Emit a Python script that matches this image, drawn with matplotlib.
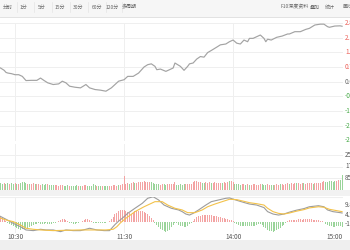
import numpy as np
import matplotlib
matplotlib.use("Agg")
import matplotlib.pyplot as plt
from matplotlib.patches import Rectangle
from matplotlib.lines import Line2D

plt.rcParams['font.family'] = ['Noto Sans CJK SC', 'DejaVu Sans']

# toolbar texts
tabs = ["分时", "1分", "5分", "15分", "30分", "60分", "120分", "多周期"]
tab_x = [8, 23, 42, 60, 78, 97, 112, 129]
tools = ["F10深度资料", "叠加", "统计", "画线"]
tool_x = [295, 315, 330, 348]

# price line: minutes since 9:30 (lunch removed) and change in %
price_min = [51, 52, 54, 55, 56, 58, 60, 62, 64, 66, 69, 72, 74, 76, 78, 81, 84, 86, 88, 90, 93,
             96, 99, 101, 104, 107, 110, 113, 117, 120, 122, 125, 128, 131, 133, 135, 137, 138, 140, 143, 145,
             147, 148, 151, 153, 155, 156, 158, 160, 162, 164, 166, 168, 171, 173, 176, 178, 180, 182, 184, 186,
             188, 189, 191, 193, 195, 197, 198, 199, 201, 204, 207, 210, 211, 214, 217, 220, 222, 225, 228, 230,
             232, 233, 236, 239, 240]
price_pct = [0.68, 0.65, 0.54, 0.44, 0.41, 0.38, 0.33, 0.33, 0.25, 0.05, 0.06, 0.06, 0.17, 0.05, -0.06, -0.14, -0.11, 0.02, -0.06, -0.22, -0.27,
             -0.30, -0.14, -0.30, -0.38, -0.41, -0.46, -0.30, 0.02, 0.09, 0.25, 0.25, 0.41, 0.70, 0.81, 0.85, 0.73, 0.57, 0.60, 0.49, 0.57,
             0.65, 0.89, 0.73, 0.54, 0.73, 0.85, 0.89, 1.08, 1.20, 1.17, 1.39, 1.49, 1.65, 1.76, 1.80, 1.91, 1.99, 1.84, 1.80, 1.99,
             1.91, 2.07, 2.07, 2.15, 2.23, 2.07, 1.91, 2.03, 1.99, 2.12, 2.18, 2.28, 2.28, 2.39, 2.39, 2.50, 2.55, 2.71, 2.75, 2.75,
             2.63, 2.60, 2.66, 2.67, 2.65]
pct_ticks = [2.82, 2.11, 1.41, 0.70, 0.00, -0.70, -1.41, -2.11, -2.82]

# per-minute volume starting at minute 52, r = up, g = down
vol_start = 52
volume = [480, 440, 470, 420, 450, 430, 460, 410, 470, 440,
          430, 460, 520, 560, 500, 440, 420, 380, 450, 400,
          380, 420, 360, 400, 350, 380, 420, 330, 360, 340,
          330, 300, 280, 320, 350, 290, 270, 300, 260, 280,
          270, 250, 300, 260, 240, 280, 330, 360, 270, 250,
          240, 430, 300, 260, 230, 270, 250, 240, 260, 230,
          250, 280, 300, 330, 280, 320, 350, 380, 980, 420,
          450, 430, 480, 520, 460, 500, 540, 580, 560, 600,
          570, 520, 580, 540, 460, 430, 400, 380, 360, 410,
          380, 350, 400, 370, 390, 420, 580, 360, 340, 380,
          350, 370, 390, 410, 380, 430, 560, 640, 600, 560,
          520, 480, 510, 540, 490, 520, 500, 470, 520, 480,
          510, 490, 460, 520, 480, 540, 620, 650, 560, 420,
          380, 400, 360, 390, 370, 340, 380, 360, 350, 390,
          370, 340, 360, 380, 410, 360, 340, 370, 350, 330,
          360, 340, 380, 350, 370, 390, 360, 420, 450, 440,
          470, 430, 460, 450, 480, 440, 470, 460, 430, 480,
          450, 470, 440, 490, 460, 500, 480, 520, 600, 560,
          580, 620, 640, 560, 600, 650, 720, 700, 1100]
vol_dir = ("ggrggrggrg" "rggggrgrrg" "rrrgggrggg" "rrrrrgggrg" "gggrgrrrgg"
           "gggrggrggg" "rrrrrgrrrr" "rgrrgrrrrr" "rrrgggggrr" "ggrrrrrggg"
           "ggrrrrrrrr" "rggrrrgrrr" "rrgrrrgrrg" "gggrrgrgrr" "rrrrgggrrg"
           "grrrgrrrrg" "rrrgrrrgrr" "rrgrrrrrrg" "gggggrrgg")
vol_ticks = [850, 1700, 2550]

# MACD
dif_min = [51, 55, 59, 63, 66, 70, 74, 77, 81, 85, 88, 92, 96, 99, 101, 105, 109, 112, 115, 117,
           119, 122, 126, 130, 133, 136, 139, 142, 146, 150, 152, 154, 156, 158, 161, 165, 168, 172, 176, 178,
           182, 186, 189, 193, 197, 199, 202, 205, 208, 211, 215, 219, 222, 227, 230, 232, 235, 239, 240]
dif_val = [3.8, 1.6, -0.8, -2.8, -4.7, -5.1, -4.3, -4.7, -4.7, -5.7, -4.7, -5.1, -5.1, -4.3, -3.7, -4.7, -5.1, -5.1, -1.5, 0.5,
           2.2, 5.1, 8.1, 11.0, 14.0, 14.9, 13.0, 10.0, 8.1, 7.1, 6.1, 4.7, 4.1, 5.1, 7.1, 10.0, 12.0, 13.0, 14.0, 14.2,
           12.8, 11.5, 10.6, 10.0, 8.5, 6.1, 4.7, 4.1, 4.7, 5.8, 7.0, 7.9, 9.0, 9.6, 9.0, 7.1, 6.1, 5.5, 5.3]
dea_min = [51, 55, 59, 63, 66, 70, 74, 81, 88, 96, 103, 110, 114, 116, 118, 121, 126, 131, 137, 141,
           144, 148, 152, 155, 159, 163, 166, 170, 174, 178, 182, 186, 189, 193, 197, 199, 202, 205, 208, 211,
           215, 219, 222, 227, 230, 233, 237, 240]
dea_val = [2.6, 1.2, 0.2, -1.8, -3.7, -4.3, -4.7, -5.1, -4.9, -4.7, -4.7, -4.7, -4.3, -2.8, -0.5, 2.2, 6.1, 9.0, 12.0, 12.0,
           10.0, 8.1, 7.1, 5.5, 5.5, 7.1, 9.0, 10.6, 12.0, 13.4, 13.2, 12.2, 11.4, 10.8, 10.0, 8.1, 6.1, 5.1, 4.7, 5.3,
           6.4, 7.3, 8.3, 9.0, 8.7, 7.5, 6.7, 6.1]
macd_hist = [3.0, 2.6, 2.0, 0.8, -0.5, -1.0, -1.8, -2.5, -3.2, -3.8,
             -4.2, -4.5, -4.4, -4.2, -3.8, -3.3, -2.8, -2.2, -1.6, -1.2,
             -0.9, -0.7, -1.0, -1.2, -1.0, -0.8, -1.1, -1.3, -1.0, -0.8,
             -0.6, -0.3, 0.6, 1.4, 1.8, 1.5, 1.0, 0.4, -0.5, -0.8,
             -1.0, -0.9, -0.8, -0.6, -0.3, 0.5, 1.2, 1.8, 1.6, 1.0,
             0.3, -0.4, -0.6, -0.7, -0.6, -0.5, -0.6, -0.5, -0.4, -0.2,
             0.5, 1.5, 3.0, 4.5, 5.5, 6.3, 6.8, 7.0, 6.8, 6.5,
             5.8, 5.2, 5.0, 5.5, 6.2, 6.5, 6.6, 6.5, 6.2, 5.8,
             5.2, 4.5, 3.5, 2.3, 1.0, -0.4, -1.8, -3.0, -4.2, -5.0,
             -5.6, -5.7, -5.3, -4.5, -3.2, -1.8, -0.6, -0.8, -1.5, -2.1,
             -2.5, -2.8, -2.7, -2.2, -1.4, -0.4, 0.8, 1.9, 2.8, 3.4,
             3.8, 4.0, 4.1, 4.1, 4.0, 4.1, 4.0, 3.8, 3.6, 3.3,
             3.0, 2.8, 2.5, 2.2, 2.0, 1.7, 1.4, 1.0, 0.5, -0.5,
             -1.4, -1.9, -2.2, -2.3, -2.4, -2.3, -2.2, -2.3, -2.4, -2.3,
             -2.1, -1.8, -1.4, -1.2, -2.0, -3.0, -3.8, -4.6, -5.2, -5.6,
             -5.7, -5.5, -5.0, -4.3, -3.5, -2.6, -1.6, -0.7, 0.5, 1.0,
             1.2, 1.3, 1.4, 1.4, 1.5, 1.5, 1.4, 1.5, 1.6, 1.6,
             1.5, 1.5, 1.4, 1.3, 1.2, 1.0, 0.7, 0.4, -0.3, -1.0,
             -1.8, -2.3, -2.6, -2.8, -2.7, -2.6, -2.5, -2.6, -2.7]
macd_ticks = [9.81, 4.20, -1.40]

time_ticks = [60, 120, 180, 240]
time_labels = ["10:30", "11:30", "14:00", "15:00"]

RED = '#f3a3a3'
GREEN = '#9ad49a'
GRID = '#efefef'
W, H = 350.0, 250.0
XMIN, XMAX = 51.7, 240.5


def px_box(top, bottom, right=343):
    # figure box from pixel rows
    return [0, 1 - bottom / H, right / W, (bottom - top) / H]


def setup(ax):
    ax.set_xlim(XMIN, XMAX)
    for s in ax.spines.values():
        s.set_visible(False)
    ax.set_xticks([])
    ax.set_yticks([])
    ax.patch.set_alpha(0)
    for t in time_ticks[:-1]:
        ax.axvline(t, color=GRID, lw=0.7, zorder=0)


fig = plt.figure(figsize=(3.5, 2.5), dpi=100)
fig.patch.set_facecolor('white')

# toolbar
fig.patches.append(Rectangle((0, 1 - 17 / H), 1, 17 / H, transform=fig.transFigure,
                             facecolor='#f6f6f6', edgecolor='none', zorder=0))
fig.lines.append(Line2D([0, 1], [1 - 17 / H] * 2, transform=fig.transFigure, color='#e2e2e2', lw=0.7))
for t, x in zip(tabs, tab_x):
    fig.text(x / W, 1 - 7 / H, t, fontsize=3.6, color='#666666', ha='center', va='center')
for i in range(len(tab_x) - 1):
    xs = (tab_x[i] + tab_x[i + 1]) / 2 + 1
    fig.lines.append(Line2D([xs / W] * 2, [1 - 12 / H, 1 - 2 / H], transform=fig.transFigure,
                            color='#e4e4e4', lw=0.5))
for t, x in zip(tools, tool_x):
    fig.text(x / W, 1 - 7 / H, t, fontsize=3.6, color='#666666', ha='center', va='center')

# price pane
ax_p = fig.add_axes(px_box(22.7, 140.5))
setup(ax_p)
ax_p.set_ylim(pct_ticks[-1], pct_ticks[0])
for v in pct_ticks:
    ax_p.axhline(v, color=GRID, lw=0.7, zorder=0)
    col = '#ec5d55' if v > 0 else ('#45a845' if v < 0 else '#666666')
    ax_p.text(1.006, v, f"{v:.2f}%", transform=ax_p.get_yaxis_transform(), fontsize=4.6,
              color=col, ha='left', va='center', clip_on=False)
ax_p.plot(price_min, price_pct, color='#a3a3a3', lw=0.85)

# volume pane
ax_v = fig.add_axes(px_box(143.5, 189.5))
setup(ax_v)
vol_x = np.arange(vol_start, vol_start + len(volume))
vol_col = [RED if c == 'r' else GREEN for c in vol_dir]
ax_v.bar(vol_x, volume, width=0.55, color=vol_col, linewidth=0)
ax_v.set_ylim(0, vol_ticks[0] * 4)
for v in vol_ticks:
    ax_v.axhline(v, color=GRID, lw=0.7, zorder=0)
    ax_v.text(1.006, v, str(v), transform=ax_v.get_yaxis_transform(), fontsize=4.6,
              color='#555555', ha='left', va='center', clip_on=False)

# separator band
fig.patches.append(Rectangle((0, 1 - 196 / H), 1, 6.5 / H, transform=fig.transFigure,
                             facecolor='#f2f2f2', edgecolor='none', zorder=0))

# MACD pane
ax_m = fig.add_axes(px_box(197, 233))
setup(ax_m)
ax_m.set_ylim(-6.5, 14.75)
ax_m.axhline(14.75, color=GRID, lw=0.8, zorder=0)
hx = np.arange(vol_start, vol_start + len(macd_hist))
ax_m.bar(hx, macd_hist, width=0.55, color=[RED if v >= 0 else GREEN for v in macd_hist], linewidth=0)
ax_m.plot(dif_min, dif_val, color='#9c9c9c', lw=0.8)
ax_m.plot(dea_min, dea_val, color='#f3c24a', lw=0.8)
for v in macd_ticks:
    ax_m.text(1.006, v, f"{v:.2f}", transform=ax_m.get_yaxis_transform(), fontsize=4.6,
              color='#555555', ha='left', va='center', clip_on=False)

# time axis, label centres at pixel row 237
lab_y = -4.0 / 36.0
for t, lab in zip(time_ticks, time_labels):
    ha = 'right' if t == time_ticks[-1] else 'center'
    ax_m.text(t, lab_y, lab, transform=ax_m.get_xaxis_transform(), fontsize=4.6,
              color='#555555', ha=ha, va='center', clip_on=False)

# bottom bar
fig.patches.append(Rectangle((0, 0), 1, 10 / H, transform=fig.transFigure,
                             facecolor='#efefef', edgecolor='none', zorder=0))

fig.savefig('out.png', dpi=100)
